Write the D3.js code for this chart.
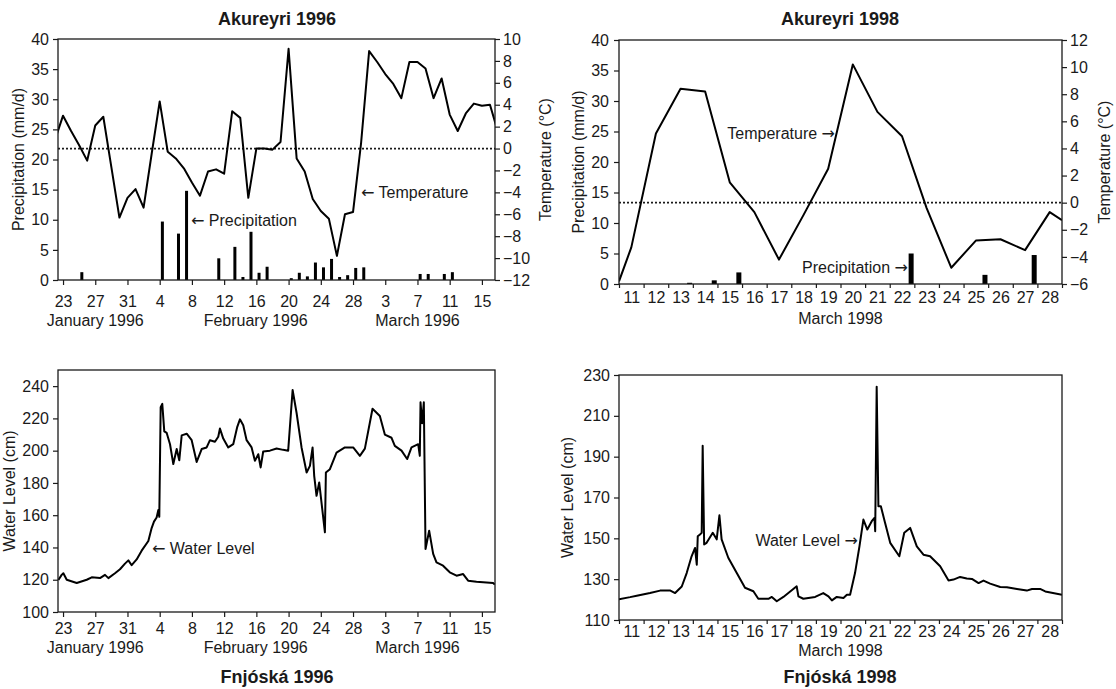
<!DOCTYPE html>
<html>
<head>
<meta charset="utf-8">
<script src="https://cdn.jsdelivr.net/npm/d3@7"></script>
<style>
  body { margin: 0; background: #fff; }
  svg { font-family: "Liberation Sans", Arial, Helvetica, sans-serif; }
  .arrow { font-family: "DejaVu Sans", sans-serif; }
</style>
</head>
<body>
<svg id="chart" width="1116" height="689"></svg>
<script>
// ---------- data ----------
// Akureyri 1996: daily temperature (°C), one value per day starting 22 Jan 1996
const temp1996Start = "1996-01-22"
const temp1996 = [0.8, 3.0, 1.6, 0.3, -1.1, 2.1, 2.9, -1.7, -6.3, -4.5,
  -3.7, -5.4, -0.5, 4.3, -0.3, -0.9, -1.8, -3.1, -4.3, -2.1,
  -1.9, -2.3, 3.4, 2.8, -4.5, 0.0, 0.0, -0.1, 0.6, 9.1,
  -0.9, -2.1, -4.6, -5.7, -6.4, -9.8, -6.0, -5.8, 0.5, 8.9,
  7.9, 6.8, 5.9, 4.6, 7.9, 7.9, 7.3, 4.6, 6.4, 3.1,
  1.6, 3.2, 4.1, 3.9, 4.0, 1.5]

// Akureyri 1996: precipitation (mm/d)
const precipDays1996 = ["1996-01-25", "1996-02-04", "1996-02-06", "1996-02-07", "1996-02-11",
  "1996-02-13", "1996-02-14", "1996-02-15", "1996-02-16", "1996-02-17", "1996-02-20",
  "1996-02-21", "1996-02-22", "1996-02-23", "1996-02-24", "1996-02-25", "1996-02-26",
  "1996-02-27", "1996-02-28", "1996-02-29", "1996-03-07", "1996-03-08", "1996-03-10",
  "1996-03-11"]
const precip1996 = [1.3, 9.7, 7.7, 14.8, 3.6, 5.5, 0.5, 8.0, 1.2, 2.2, 0.3,
  1.2, 0.6, 2.9, 2.1, 3.5, 0.5, 0.8, 2.0, 2.1, 1.0, 1.0, 1.0, 1.3]

// Akureyri 1998: temperature, [day of March, °C]
const temp1998 = [[11.0, -5.8], [11.5, -3.3], [12.5, 5.1], [13.5, 8.4], [14.5, 8.2],
  [15.5, 1.5], [16.5, -0.7], [17.5, -4.2], [18.5, -0.9], [19.5, 2.5], [20.5, 10.2],
  [21.5, 6.7], [22.5, 4.9], [23.5, -0.4], [24.5, -4.8], [25.5, -2.8], [26.5, -2.7],
  [27.5, -3.5], [28.5, -0.7], [29.0, -1.3]]

// Akureyri 1998: precipitation (mm/d), by day of March
const precipDays1998 = [13, 14, 15, 22, 25, 27]
const precip1998 = [0.2, 0.6, 1.9, 5.0, 1.5, 4.75]

// Fnjóská 1996 water level, [days after 23 Jan 1996, cm]
const water1996 = [[-0.58, 119.8], [-0.17, 123], [0.04, 124], [0.46, 120], [1.7, 118],
  [2.94, 120], [3.56, 121.5], [4.59, 121], [5.21, 123], [5.63, 121], [6.45, 124],
  [7.07, 126.5], [7.69, 130], [8.11, 132], [8.52, 129], [9.14, 132.6], [9.76, 138],
  [10.59, 144], [11.0, 152], [11.29, 156], [11.62, 158.6], [11.83, 163.2], [11.95, 159],
  [12.12, 227], [12.32, 229], [12.57, 212], [12.87, 211], [13.28, 204], [13.69, 191.7],
  [14.11, 201], [14.43, 194], [14.73, 209.5], [15.35, 210.5], [15.97, 206.5], [16.59, 193],
  [17.21, 201], [17.83, 202], [18.24, 206.5], [18.86, 205.5], [19.27, 208.6], [19.48, 213.7],
  [19.89, 207.5], [20.51, 202], [21.13, 204], [21.63, 214.8], [21.96, 219.4], [22.37, 215.8],
  [22.79, 206.5], [23.41, 202], [23.82, 193.7], [24.24, 197.8], [24.53, 189.6], [24.85, 199.5],
  [25.68, 200], [26.51, 201.3], [27.33, 200.5], [27.95, 200], [28.5, 237.6], [28.99, 223.5],
  [29.61, 202], [30.24, 186.5], [30.65, 190.6], [30.98, 202], [31.18, 184.4], [31.47, 172],
  [31.8, 180.3], [32.51, 149.4], [32.63, 186.5], [33.13, 188.5], [33.95, 198.8], [34.99, 202],
  [36.02, 202], [36.85, 196.8], [37.47, 201.3], [38.42, 226], [39.33, 221.5], [39.95, 210],
  [40.78, 208], [41.19, 203], [42.02, 200], [42.72, 194.8], [43.26, 202], [44.09, 204],
  [44.29, 196.8], [44.38, 230], [44.58, 217], [44.79, 230], [45.0, 139], [45.45, 150.4],
  [45.95, 136], [46.36, 130.8], [47.18, 128.7], [48.01, 124.6], [48.85, 122.5], [49.67, 123.5],
  [50.29, 119.4], [51.33, 118.8], [52.57, 118.3], [53.39, 118], [53.6, 117]]

// Fnjóská 1998 water level, [day of March, cm]
const water1998 = [[11.0, 120.2], [11.45, 121.2], [11.72, 121.9], [12.26, 123.2], [12.67, 124.4],
  [13.07, 124.5], [13.28, 123.2], [13.55, 126.4], [13.75, 133], [13.95, 141.2], [14.09, 145.3],
  [14.16, 137.1], [14.2, 151], [14.29, 151.9], [14.36, 152.7], [14.4, 195.3], [14.46, 147],
  [14.56, 147.8], [14.81, 152.7], [14.97, 149.5], [15.08, 161.3], [15.17, 149.5], [15.44, 140.5],
  [15.78, 133.1], [16.12, 125.8], [16.46, 124.1], [16.66, 120.4], [17.07, 120.4], [17.21, 121.3],
  [17.41, 119.2], [17.68, 121.3], [18.22, 126.5], [18.29, 121.6], [18.49, 120.4], [18.97, 121.3],
  [19.3, 123.2], [19.51, 121.6], [19.65, 119.6], [19.85, 121.3], [20.12, 120.8], [20.26, 122.4],
  [20.39, 122.4], [20.59, 133], [20.77, 146.1], [20.93, 159.2], [21.09, 154.3], [21.27, 158.4],
  [21.38, 160], [21.41, 153.5], [21.47, 224.3], [21.54, 165.7], [21.64, 165.7], [21.81, 157.6],
  [22.02, 147.8], [22.39, 141.2], [22.59, 152.7], [22.83, 155.1], [23.1, 146.1], [23.37, 142],
  [23.64, 141.2], [24.05, 136.3], [24.39, 129.4], [24.59, 129.8], [24.86, 131.1], [25.13, 130.3],
  [25.34, 130.1], [25.61, 128.1], [25.81, 129.3], [26.08, 127.8], [26.49, 126.2], [26.76, 126],
  [27.17, 125.2], [27.57, 124.4], [27.78, 125.2], [28.11, 125.2], [28.32, 124], [29.0, 122.4]]

// ticks and labels
const dateTicks1996 = ["1996-01-23", "1996-01-27", "1996-01-31", "1996-02-04", "1996-02-08",
  "1996-02-12", "1996-02-16", "1996-02-20", "1996-02-24", "1996-02-28", "1996-03-03",
  "1996-03-07", "1996-03-11", "1996-03-15"]
const months1996 = ["January 1996", "February 1996", "March 1996"]
const monthAt1996 = ["1996-01-27", "1996-02-15T22:00", "1996-03-07"]
const days1998 = d3.range(11, 29)   // March 11 .. 28
const precipTicks = [0, 5, 10, 15, 20, 25, 30, 35, 40]
const tempTicks1996 = [-12, -10, -8, -6, -4, -2, 0, 2, 4, 6, 8, 10]
const tempTicks1998 = [-6, -4, -2, 0, 2, 4, 6, 8, 10, 12]
const waterTicks1996 = [100, 120, 140, 160, 180, 200, 220, 240]
const waterTicks1998 = [110, 130, 150, 170, 190, 210, 230]

// ---------- helpers ----------
const DAY = 864e5
const parse = s => new Date(s.length > 10 ? s + ":00Z" : s + "T00:00:00Z")
const march98 = d => new Date(Date.UTC(1998, 2, 1) + (d - 1) * DAY)
const jan23 = off => new Date(Date.UTC(1996, 0, 23) + off * DAY)
const ink = "#1a1a1a"

const svg = d3.select("#chart")

function styleAxis(g, size) {
  g.select(".domain").remove()
  g.selectAll("line").attr("stroke", ink).attr("stroke-width", 1.2)
  g.selectAll("text").attr("fill", ink).style("font-size", size || "16px")
}

function frame(x0, x1, yTop, yBot) {
  svg.append("rect")
    .attr("x", x0).attr("y", yTop)
    .attr("width", x1 - x0).attr("height", yBot - yTop)
    .attr("fill", "none").attr("stroke", ink).attr("stroke-width", 1.3)
}

function clip(id, x0, x1, yTop, yBot) {
  svg.append("clipPath").attr("id", id).append("rect")
    .attr("x", x0).attr("y", yTop).attr("width", x1 - x0).attr("height", yBot - yTop)
}

function text(str, x, y, opts) {
  opts = opts || {}
  const t = svg.append("text").attr("x", x).attr("y", y)
    .attr("fill", ink)
    .style("font-size", opts.size || "16px")
    .attr("text-anchor", opts.anchor || "start")
  // arrows get a font with long arrow glyphs
  str.split(/([←→])/).filter(s => s.length).forEach(part => {
    const sp = t.append("tspan").text(part)
    if (part === "←" || part === "→") sp.attr("class", "arrow")
  })
  if (opts.bold) t.style("font-weight", "bold")
  if (opts.rotate) t.attr("transform", "rotate(-90," + x + "," + y + ")")
  return t
}

// ---------- Akureyri 1996 ----------
{
  const L = 58, R = 495, T = 39, B = 280
  const x = d3.scaleUtc().domain([parse("1996-01-22T09:00"), parse("1996-03-16T15:00")]).range([L, R])
  const yP = d3.scaleLinear().domain([0, 40]).range([B, T])
  const yT = d3.scaleLinear().domain([-12, 10]).range([B, T])
  clip("c1", L, R, T, B)

  // precipitation bars
  svg.append("g").selectAll("rect").data(precip1996).join("rect")
    .attr("x", (d, i) => x(d3.utcHour.offset(parse(precipDays1996[i]), 8)) - 1.5)
    .attr("width", 3)
    .attr("y", d => yP(d))
    .attr("height", d => B - yP(d))
    .attr("fill", "#000")

  // zero-degree line
  svg.append("line").attr("x1", L).attr("x2", R).attr("y1", yT(0)).attr("y2", yT(0))
    .attr("stroke", ink).attr("stroke-width", 1.8).attr("stroke-dasharray", "2,2")

  const start = parse(temp1996Start)
  svg.append("path")
    .datum(temp1996)
    .attr("clip-path", "url(#c1)")
    .attr("fill", "none").attr("stroke", "#000").attr("stroke-width", 2)
    .attr("stroke-linejoin", "round")
    .attr("d", d3.line().x((d, i) => x(d3.utcDay.offset(start, i))).y(d => yT(d)))

  frame(L, R, T, B)

  svg.append("g").attr("transform", "translate(" + L + ",0)")
    .call(d3.axisLeft(yP).tickValues(precipTicks).tickSize(5).tickPadding(4))
    .call(styleAxis)
  svg.append("g").attr("transform", "translate(" + R + ",0)")
    .call(d3.axisRight(yT).tickValues(tempTicks1996).tickSize(5).tickPadding(3))
    .call(styleAxis)
  svg.append("g").attr("transform", "translate(0," + B + ")")
    .call(d3.axisBottom(x).tickValues(dateTicks1996.map(parse)).tickFormat(d3.utcFormat("%-d"))
      .tickSize(5).tickPadding(11))
    .call(styleAxis)

  months1996.forEach((m, i) => text(m, x(parse(monthAt1996[i])), 326, { anchor: "middle" }))

  text("Akureyri 1996", 277, 25, { anchor: "middle", bold: true, size: "18px" })
  text("Precipitation (mm/d)", 24, (T + B) / 2, { anchor: "middle", rotate: true })
  text("Temperature (°C)", 551, (T + B) / 2, { anchor: "middle", rotate: true })
  text("← Precipitation", 191, 226)
  text("← Temperature", 361, 198)
}

// ---------- Akureyri 1998 ----------
{
  const L = 619, R = 1062, T = 40, B = 284
  const x = d3.scaleUtc().domain([march98(11), march98(29)]).range([L, R])
  const yP = d3.scaleLinear().domain([0, 40]).range([B, T])
  const yT = d3.scaleLinear().domain([-6, 12]).range([B, T])
  clip("c2", L, R, T, B)

  svg.append("g").selectAll("rect").data(precip1998).join("rect")
    .attr("x", (d, i) => x(march98(precipDays1998[i] + 0.87)) - 2.5)
    .attr("width", 5)
    .attr("y", d => yP(d))
    .attr("height", d => B - yP(d))
    .attr("fill", "#000")

  svg.append("line").attr("x1", L).attr("x2", R).attr("y1", yT(0)).attr("y2", yT(0))
    .attr("stroke", ink).attr("stroke-width", 1.8).attr("stroke-dasharray", "2,2")

  svg.append("path")
    .datum(temp1998)
    .attr("clip-path", "url(#c2)")
    .attr("fill", "none").attr("stroke", "#000").attr("stroke-width", 2)
    .attr("stroke-linejoin", "round")
    .attr("d", d3.line().x(d => x(march98(d[0]))).y(d => yT(d[1])))

  frame(L, R, T, B)

  svg.append("g").attr("transform", "translate(" + L + ",0)")
    .call(d3.axisLeft(yP).tickValues(precipTicks).tickSize(5).tickPadding(5))
    .call(styleAxis)
  svg.append("g").attr("transform", "translate(" + R + ",0)")
    .call(d3.axisRight(yT).tickValues(tempTicks1998).tickSize(5).tickPadding(3))
    .call(styleAxis)
  // day boundary ticks
  svg.append("g").attr("transform", "translate(0," + B + ")")
    .call(d3.axisBottom(x).tickValues(d3.range(11, 30).map(march98)).tickFormat("").tickSize(4))
    .call(styleAxis)
  // day labels centred in each day
  svg.append("g").attr("transform", "translate(0," + B + ")")
    .call(d3.axisBottom(x).tickValues(days1998.map(d => march98(d + 0.5))).tickFormat(d3.utcFormat("%-d"))
      .tickSize(0).tickPadding(8))
    .call(styleAxis)

  text("March 1998", x(march98(20)), 324, { anchor: "middle" })
  text("Akureyri 1998", 840, 25, { anchor: "middle", bold: true, size: "18px" })
  text("Precipitation (mm/d)", 584, (T + B) / 2, { anchor: "middle", rotate: true })
  text("Temperature (°C)", 1110, (T + B) / 2, { anchor: "middle", rotate: true })
  text("Temperature →", 835, 139, { anchor: "end" })
  text("Precipitation →", 908, 273, { anchor: "end" })
}

// ---------- Fnjóská 1996 ----------
{
  const L = 58, R = 495, T = 370, B = 612
  const x = d3.scaleUtc().domain([parse("1996-01-22T09:00"), parse("1996-03-16T15:00")]).range([L, R])
  const y = d3.scaleLinear().domain([100, 250]).range([B, T])
  clip("c3", L, R, T, B)

  svg.append("path")
    .datum(water1996)
    .attr("clip-path", "url(#c3)")
    .attr("fill", "none").attr("stroke", "#000").attr("stroke-width", 2)
    .attr("stroke-linejoin", "round")
    .attr("d", d3.line().x(d => x(jan23(d[0]))).y(d => y(d[1])))

  frame(L, R, T, B)

  svg.append("g").attr("transform", "translate(" + L + ",0)")
    .call(d3.axisLeft(y).tickValues(waterTicks1996).tickSize(5).tickPadding(4))
    .call(styleAxis)
  svg.append("g").attr("transform", "translate(0," + B + ")")
    .call(d3.axisBottom(x).tickValues(dateTicks1996.map(parse)).tickFormat(d3.utcFormat("%-d"))
      .tickSize(5).tickPadding(6))
    .call(styleAxis)

  months1996.forEach((m, i) => text(m, x(parse(monthAt1996[i])), 653, { anchor: "middle" }))
  text("Fnjóská 1996", 277, 683, { anchor: "middle", bold: true, size: "18px" })
  text("Water Level (cm)", 15, (T + B) / 2, { anchor: "middle", rotate: true })
  text("← Water Level", 152, 554)
}

// ---------- Fnjóská 1998 ----------
{
  const L = 619, R = 1062, T = 375, B = 620
  const x = d3.scaleUtc().domain([march98(11), march98(29)]).range([L, R])
  const y = d3.scaleLinear().domain([110, 230]).range([B, T])
  clip("c4", L, R, T, B)

  svg.append("path")
    .datum(water1998)
    .attr("clip-path", "url(#c4)")
    .attr("fill", "none").attr("stroke", "#000").attr("stroke-width", 2)
    .attr("stroke-linejoin", "round")
    .attr("d", d3.line().x(d => x(march98(d[0]))).y(d => y(d[1])))

  frame(L, R, T, B)

  svg.append("g").attr("transform", "translate(" + L + ",0)")
    .call(d3.axisLeft(y).tickValues(waterTicks1998).tickSize(5).tickPadding(4))
    .call(styleAxis)
  svg.append("g").attr("transform", "translate(0," + B + ")")
    .call(d3.axisBottom(x).tickValues(d3.range(11, 30).map(march98)).tickFormat("").tickSize(4))
    .call(styleAxis)
  svg.append("g").attr("transform", "translate(0," + B + ")")
    .call(d3.axisBottom(x).tickValues(days1998.map(d => march98(d + 0.5))).tickFormat(d3.utcFormat("%-d"))
      .tickSize(0).tickPadding(6))
    .call(styleAxis)

  text("March 1998", x(march98(20)), 656, { anchor: "middle" })
  text("Fnjóská 1998", 840, 683, { anchor: "middle", bold: true, size: "18px" })
  text("Water Level (cm)", 573, (T + B) / 2, { anchor: "middle", rotate: true })
  text("Water Level →", 858, 546, { anchor: "end" })
}
</script>
</body>
</html>
